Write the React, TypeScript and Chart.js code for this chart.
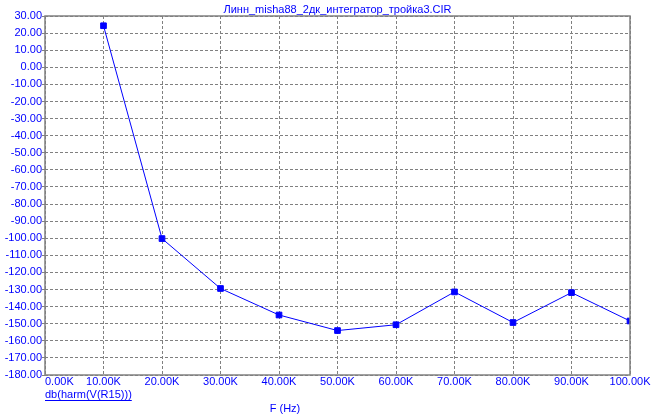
import React, { useEffect, useRef } from "react";
import { Chart, registerables } from "chart.js";

Chart.register(...registerables);

const titleText = "Линн_misha88_2дк_интегратор_тройка3.CIR";
const seriesLabel = "db(harm(V(R15)))";
const xAxisTitle = "F (Hz)";
const freqK = [10, 20, 30, 40, 50, 60, 70, 80, 90, 100];
const dbValues = [24.3, -100.2, -129.4, -144.9, -154.0, -150.6, -131.4, -149.3, -131.8, -148.4];
const xTickValues = [0, 10, 20, 30, 40, 50, 60, 70, 80, 90, 100];

const FONT = '11px "Liberation Sans", Arial, sans-serif';
const BLUE = "#0000ff";
const GRID = "#808080";

export default function App() {
  const ref = useRef<HTMLCanvasElement | null>(null);

  useEffect(() => {
    document.body.style.margin = "0";
    const canvas = ref.current;
    if (!canvas) return;

    const overlay = {
      id: "overlay",
      afterDraw(chart: any) {
        const ctx = chart.ctx;
        const a = chart.chartArea;
        const xs = chart.scales.x;
        ctx.save();
        ctx.strokeStyle = GRID;
        ctx.lineWidth = 1.5;
        ctx.setLineDash([]);
        ctx.strokeRect(a.left, a.top, a.right - a.left, a.bottom - a.top);
        ctx.font = FONT;
        ctx.fillStyle = BLUE;
        ctx.textAlign = "center";
        ctx.textBaseline = "middle";
        ctx.fillText(titleText, (a.left + a.right) / 2, 10);
        xTickValues.forEach((v, i) => {
          const px = xs.getPixelForValue(v);
          const label = v.toFixed(2) + "K";
          ctx.textAlign = i === 0 ? "left" : "center";
          ctx.fillText(label, px, 382);
        });
        ctx.textAlign = "left";
        ctx.fillText(seriesLabel, a.left, 395);
        const w = ctx.measureText(seriesLabel).width;
        ctx.strokeStyle = BLUE;
        ctx.lineWidth = 1;
        ctx.beginPath();
        ctx.moveTo(a.left, 400.5);
        ctx.lineTo(a.left + w, 400.5);
        ctx.stroke();
        ctx.textAlign = "center";
        ctx.fillText(xAxisTitle, 285, 409);
        ctx.restore();
      },
    };

    const chart = new Chart(canvas, {
      type: "line",
      data: {
        datasets: [
          {
            label: seriesLabel,
            data: freqK.map((f, i) => ({ x: f, y: dbValues[i] })),
            borderColor: BLUE,
            backgroundColor: BLUE,
            borderWidth: 1,
            pointStyle: "rect",
            pointRadius: 4,
            pointBorderWidth: 1,
            pointBorderColor: BLUE,
            pointBackgroundColor: BLUE,
            tension: 0,
            fill: false,
          },
        ],
      },
      options: {
        responsive: false,
        animation: false,
        layout: { padding: { top: 16, right: 24, left: 0, bottom: 0 } },
        plugins: {
          legend: { display: false },
          tooltip: { enabled: false },
          title: { display: false },
        },
        scales: {
          x: {
            type: "linear",
            min: 0,
            max: 100,
            ticks: { display: false, stepSize: 10 },
            grid: { color: GRID, lineWidth: 1, drawTicks: false },
            border: { display: false, dash: [3, 2] },
            afterFit(scale: any) {
              scale.height = 44;
            },
          },
          y: {
            type: "linear",
            min: -180,
            max: 30,
            ticks: {
              stepSize: 10,
              color: BLUE,
              font: { family: '"Liberation Sans", Arial, sans-serif', size: 11 },
              padding: 0,
              callback: (v: any) => Number(v).toFixed(2),
            },
            grid: {
              color: GRID,
              lineWidth: 1,
              drawTicks: true,
              tickLength: 3,
              tickColor: GRID,
              tickBorderDash: [],
            },
            border: { display: false, dash: [3, 2] },
            afterFit(scale: any) {
              scale.width = 45;
            },
          },
        },
      },
      plugins: [overlay],
    } as any);

    return () => chart.destroy();
  }, []);

  return <canvas ref={ref} width={654} height={419} style={{ display: "block" }} />;
}
